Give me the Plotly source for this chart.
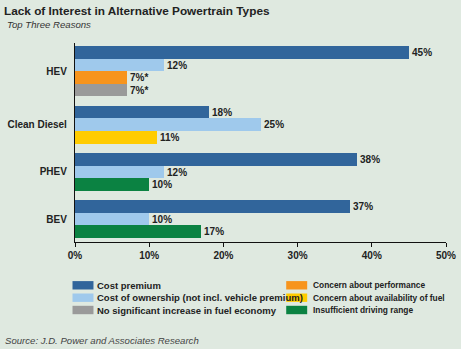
import plotly.graph_objects as go

# ---- data ----
categories = ["HEV", "Clean Diesel", "PHEV", "BEV"]
series_names = [
    "Cost premium",
    "Cost of ownership (not incl. vehicle premium)",
    "Concern about performance",
    "No significant increase in fuel economy",
    "Concern about availability of fuel",
    "Insufficient driving range",
]
cost_premium = [45, 18, 38, 37]
cost_ownership = [12, 25, 12, 10]
concern_performance = [7, None, None, None]
no_fuel_economy = [7, None, None, None]
fuel_availability = [None, 11, None, None]
driving_range = [None, None, 10, 17]
label_suffix = ["", "", "*", "*", "", ""]   # asterisk on HEV tied values
x_ticks = [0, 10, 20, 30, 40, 50]
x_tick_labels = ["0%", "10%", "20%", "30%", "40%", "50%"]

series_values = [cost_premium, cost_ownership, concern_performance,
                 no_fuel_economy, fuel_availability, driving_range]

# ---- styles ----
colors = ["#31659b", "#9fc9ec", "#f7941d", "#9a9a9a", "#ffcc00", "#0b8242"]
bg = "#dfe9e0"
font_main = "Liberation Sans, Arial, sans-serif"
group_gap = 0.75

# compute slot positions per category (bars stacked without gaps in a group)
positions = [[None] * len(categories) for _ in series_values]
group_centers = []
cursor = 0.0
for ci in range(len(categories)):
    start = cursor
    for si, vals in enumerate(series_values):
        if vals[ci] is not None:
            positions[si][ci] = cursor + 0.5
            cursor += 1
    group_centers.append((start + cursor) / 2)
    cursor += group_gap
y_bottom = cursor - group_gap + 0.32

fig = go.Figure()
for si, vals in enumerate(series_values):
    xs, ys, texts = [], [], []
    for ci, v in enumerate(vals):
        if v is not None:
            xs.append(v)
            ys.append(positions[si][ci])
            texts.append(f"{v}%{label_suffix[si]}")
    fig.add_trace(go.Bar(
        x=xs, y=ys, orientation="h", width=1.0,
        name=series_names[si], marker=dict(color=colors[si], line=dict(width=0)),
        text=texts, textposition="outside", constraintext="none",
        cliponaxis=False,
        textfont=dict(family=font_main, size=10, color="#222222", weight="bold"),
        showlegend=False, hoverinfo="skip",
    ))

W, H = 461, 349
ml, mr, mt, mb = 74.5, 15, 43, 107
pw = W - ml - mr
ph = H - mt - mb

def px2x(px):
    return (px - ml) / pw

def py2y(py):
    return (H - mb - py) / ph

annotations = [
    dict(text="<i>Top Three Reasons</i>", x=px2x(4), y=py2y(24.5), xref="paper", yref="paper",
         xanchor="left", yanchor="middle", showarrow=False,
         font=dict(family=font_main, size=9.6, color="#333333")),
    dict(text="<i>Source: J.D. Power and Associates Research</i>", x=px2x(2), y=py2y(340),
         xref="paper", yref="paper", xanchor="left", yanchor="middle", showarrow=False,
         font=dict(family=font_main, size=9.6, color="#444444")),
]
shapes = []
# legend (two columns, column-major)
legend_cols = [[0, 1, 3], [2, 4, 5]]
col_x = [72, 286]
col_text_dx = [23, 25]
col_font = [9.5, 8.4]
row_y = [285.3, 297.7, 310]
for c, idxs in enumerate(legend_cols):
    for r, si in enumerate(idxs):
        x0 = col_x[c]
        shapes.append(dict(type="rect", xref="paper", yref="paper",
                           x0=px2x(x0), x1=px2x(x0 + 21), y0=py2y(row_y[r] - 4.2), y1=py2y(row_y[r] + 4.2),
                           fillcolor=colors[si], line=dict(width=0), layer="above"))
        annotations.append(dict(text=series_names[si], x=px2x(x0 + col_text_dx[c]), y=py2y(row_y[r]),
                                xref="paper", yref="paper", xanchor="left", yanchor="middle",
                                showarrow=False,
                                font=dict(family=font_main, size=col_font[c], color="#222222",
                                          weight="bold")))

fig.update_layout(
    width=W, height=H,
    margin=dict(l=ml, r=mr, t=mt, b=mb, pad=0, autoexpand=False),
    paper_bgcolor=bg, plot_bgcolor=bg,
    barmode="overlay", bargap=0,
    title=dict(text="<b>Lack of Interest in Alternative Powertrain Types</b>",
               x=4 / W, xanchor="left", xref="container",
               y=1 - 11 / H, yanchor="middle", yref="container",
               font=dict(family=font_main, size=11.8, color="#222222")),
    xaxis=dict(range=[0, 50], tickvals=x_ticks, ticktext=x_tick_labels, automargin=False,
               showgrid=False, zeroline=False, showline=True, linecolor="#111111", linewidth=1.2,
               ticks="outside", ticklen=4, tickcolor="#111111", tickwidth=1.2,
               tickfont=dict(family=font_main, size=10, color="#222222", weight="bold"),
               fixedrange=True),
    yaxis=dict(range=[y_bottom, -0.25], autorange=False, automargin=False,
               tickvals=group_centers, ticktext=categories,
               showgrid=False, zeroline=False, showline=True, linecolor="#111111", linewidth=1.2,
               ticks="", ticklabelstandoff=5,
               tickfont=dict(family=font_main, size=10, color="#222222", weight="bold"),
               fixedrange=True),
    annotations=annotations,
    shapes=shapes,
)

fig.write_html("out.html")
